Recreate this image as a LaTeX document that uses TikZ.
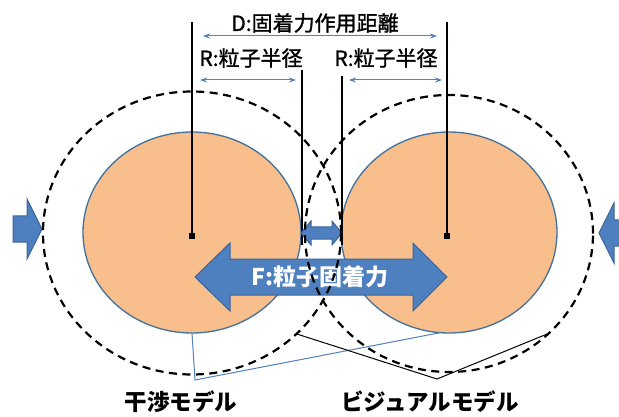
\documentclass[tikz,border=0pt]{standalone}
\usepackage{fontspec}
\newfontfamily\jp{Noto Sans CJK JP}
\newfontfamily\jpm[FakeBold=1.3]{Noto Sans CJK JP}
\usetikzlibrary{shapes.geometric,arrows.meta}
\definecolor{orf}{HTML}{F8BE8C}
\definecolor{orb}{HTML}{41719C}
\definecolor{blf}{HTML}{4E7FBE}
\definecolor{bld}{HTML}{3A649A}
\definecolor{thinblue}{HTML}{4F81BD}
\begin{document}
\begin{tikzpicture}[x=1pt,y=-1pt,
  particle/.style={ellipse, draw=orb, line width=1.3pt, fill=orf, inner sep=0pt, outer sep=0pt},
  rangering/.style={ellipse, draw=black, line width=2.2pt, dash pattern=on 8pt off 5.5pt, inner sep=0pt, outer sep=0pt},
  guide/.style={line width=2pt, black},
  meas/.style={thinblue, line width=1pt, {Stealth[length=7pt,width=5pt]}-{Stealth[length=7pt,width=5pt]}},
  blockarrow/.style={fill=blf, draw=bld, line width=1pt, line join=miter},
  thinlink/.style={line width=1pt},
  centerdot/.style={fill=black, minimum size=6pt, inner sep=0pt, outer sep=0pt},
  toplbl/.style={font=\jpm\fontsize{21}{21}\selectfont, inner sep=0pt},
  botlbl/.style={font=\jp\bfseries\fontsize{22.5}{22.5}\selectfont, inner sep=0pt},
  flbl/.style={font=\jp\bfseries\fontsize{23}{23}\selectfont, inner sep=0pt, text=white}]
\useasboundingbox (0,0) rectangle (619,417);
\clip (0,0) rectangle (619,417);

% side push arrows
\draw[blockarrow] (13,216) -- (27,216) -- (27,199) -- (42,229) -- (27,259) -- (27,242) -- (13,242) -- cycle;
\draw[blockarrow] (630,220) -- (614,220) -- (614,203) -- (599,233) -- (614,263) -- (614,246) -- (630,246) -- cycle;

% particles
\node[particle, minimum width=218pt, minimum height=201pt] (lp) at (192,232.5) {};
\node[particle, minimum width=216pt, minimum height=201pt] (rp) at (449,232.5) {};

% centre dots
\node[centerdot] (lc) at (192,236) {};
\node[centerdot] (rc) at (447,236) {};

% guide lines
\coordinate (lt) at (192,22);
\coordinate (rt) at (447,22);
\coordinate (lit) at (302,70);
\coordinate (lib) at (302,245);
\coordinate (rit) at (342,76);
\coordinate (rib) at (342,245);
\draw[guide] (lt) -- (lc.north);
\draw[guide] (rt) -- (rc.north);
\draw[guide] (lit) -- (lib);
\draw[guide] (rit) -- (rib);

% measuring arrows
\coordinate (d1) at (203,36);
\coordinate (d2) at (437,36);
\coordinate (r1a) at (200,80);
\coordinate (r1b) at (296,80);
\coordinate (r2a) at (349,80);
\coordinate (r2b) at (442,80);
\draw[meas] (d1) -- (d2);
\draw[meas] (r1a) -- (r1b);
\draw[meas] (r2a) -- (r2b);

% small gap arrow
\draw[blockarrow] (301,233) -- (311,221) -- (311,227) -- (332,227) -- (332,221) -- (342,233) -- (332,245) -- (332,239) -- (311,239) -- (311,245) -- cycle;

% adhesion force arrow
\draw[blockarrow] (195,277) -- (230,243) -- (230,259) -- (413,259) -- (413,243) -- (447,277) -- (413,311) -- (413,295) -- (230,295) -- (230,311) -- cycle;
\node[flbl] (f) at (320,277) {F:粒子固着力};

% range rings
\node[rangering, minimum width=298pt, minimum height=283pt] (ld) at (192,233) {};
\node[rangering, minimum width=288pt, minimum height=277pt] (rd) at (449,233.5) {};

% leader lines
\coordinate (bl) at (195,380);
\coordinate (bk) at (437,379);
\draw[thinlink, thinblue] (lp.south) -- (bl) -- (rp.265);
\draw[thinlink, black] (ld.316) -- (bk) -- (rd.315);

% labels
\node[toplbl] (dl) at (315,23) {D:固着力作用距離};
\node[toplbl] (rl1) at (251,58) {R:粒子半径};
\node[toplbl] (rl2) at (386,58) {R:粒子半径};
\node[botlbl] (m1) at (181,402) {干渉モデル};
\node[botlbl] (m2) at (430,402) {ビジュアルモデル};
\end{tikzpicture}
\end{document}
